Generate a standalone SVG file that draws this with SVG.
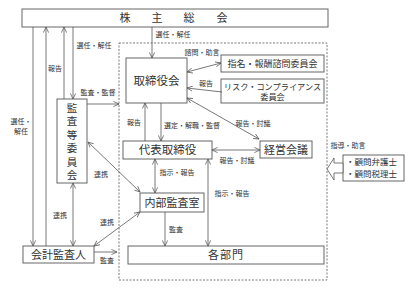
<svg xmlns="http://www.w3.org/2000/svg" width="414" height="291" viewBox="0 0 414 291">
<defs>
<style>
text{font-family:"Noto Sans CJK JP","Noto Sans CJK SC",sans-serif;fill:#333;}
.box{fill:#fff;stroke:#666;stroke-width:1;}
.lb{font-size:11px;text-anchor:middle;}
.sm{font-size:7px;text-anchor:middle;}
.c path{fill:none;stroke:#555;stroke-width:0.8;}
</style>
<marker id="a" viewBox="0 0 8 8" refX="7.5" refY="4" markerWidth="6" markerHeight="6" markerUnits="userSpaceOnUse" orient="auto-start-reverse">
<path d="M0,0.5 L7.5,4 L0,7.5" fill="none" stroke="#555" stroke-width="1"/>
</marker>
</defs>
<rect width="414" height="291" fill="#fff"/>
<rect id="scope" x="119" y="43" width="208" height="237" fill="none" stroke="#555" stroke-width="0.8" stroke-dasharray="2,1.5"/>

<g id="shareholders"><rect class="box" x="22" y="9" width="306" height="18"/>
<text class="lb" y="22"><tspan x="125">株</tspan><tspan x="157">主</tspan><tspan x="189">総</tspan><tspan x="222">会</tspan></text></g>

<g id="board"><rect class="box" x="126" y="58" width="61" height="45"/><text class="lb" x="156.5" y="85" style="font-size:11.5px">取締役会</text></g>
<g id="nomination"><rect class="box" x="221" y="55" width="103" height="17"/><text class="lb" x="272.5" y="67" style="font-size:9px">指名・報酬諮問委員会</text></g>
<g id="risk"><rect class="box" x="221" y="79" width="103" height="24"/><text class="lb" x="272.5" y="89.5" style="font-size:8.2px">リスク・コンプライアンス</text><text class="lb" x="272.5" y="100" style="font-size:8.2px">委員会</text></g>
<g id="audit-committee"><rect class="box" x="57" y="99" width="30" height="84"/>
<text x="72" y="143" writing-mode="vertical-rl" text-anchor="middle" style="font-size:10.5px;letter-spacing:3px">監査等委員会</text></g>
<g id="president"><rect class="box" x="123" y="141" width="89" height="18"/><text class="lb" x="167.5" y="154" style="font-size:11.5px">代表取締役</text></g>
<g id="management"><rect class="box" x="260" y="141" width="52" height="17"/><text class="lb" x="286" y="154">経営会議</text></g>
<g id="advisors"><rect class="box" x="343" y="155" width="61" height="26"/>
<text x="346" y="165" style="font-size:8.5px">・顧問弁護士</text><text x="346" y="177" style="font-size:8.5px">・顧問税理士</text></g>
<g id="internal-audit"><rect class="box" x="140" y="193" width="64" height="19"/><text class="lb" x="172" y="206.5">内部監査室</text></g>
<g id="departments"><rect class="box" x="128" y="246" width="196" height="18"/><text class="lb" x="226" y="259" style="letter-spacing:1px">各部門</text></g>
<g id="auditor"><rect class="box" x="23" y="246" width="71" height="17"/><text class="lb" x="58.5" y="259">会計監査人</text></g>

<g class="c" id="connectors">
<path d="M152,27 V58" marker-end="url(#a)"/>
<path d="M73,27 V99" marker-end="url(#a)"/>
<path d="M64,99 V27" marker-end="url(#a)"/>
<path d="M33,27 V246" marker-end="url(#a)"/>
<path d="M46,246 V27" marker-end="url(#a)"/>
<path d="M87,104 H119" marker-end="url(#a)"/>
<path d="M88,142 L140,192" marker-start="url(#a)" marker-end="url(#a)"/>
<path d="M73,183 V246" marker-start="url(#a)" marker-end="url(#a)"/>
<path d="M94,246 L140,212" marker-start="url(#a)" marker-end="url(#a)"/>
<path d="M94,252 H117" marker-end="url(#a)"/>
<path d="M161,103 V141" marker-end="url(#a)"/>
<path d="M145,141 V103" marker-end="url(#a)"/>
<path d="M187,72 L221,63" marker-start="url(#a)" marker-end="url(#a)"/>
<path d="M222,92 L187,88" marker-end="url(#a)"/>
<path d="M187,98 L259,139" marker-start="url(#a)" marker-end="url(#a)"/>
<path d="M212,150 H260" marker-start="url(#a)" marker-end="url(#a)"/>
<path d="M155,159 V193" marker-start="url(#a)" marker-end="url(#a)"/>
<path d="M208,159 V246" marker-start="url(#a)" marker-end="url(#a)"/>
<path d="M165,212 V246" marker-end="url(#a)"/>
</g>
<polygon id="advice-arrow" points="327,169 334,158 334,163 343,163 343,173 334,173 334,180" fill="#fff" stroke="#555" stroke-width="0.8"/>

<g id="labels">
<text class="sm" x="173" y="37">選任・解任</text>
<text class="sm" x="94" y="48">選任・解任</text>
<text class="sm" x="55" y="71">報告</text>
<text class="sm" x="98" y="95">監査・監督</text>
<text class="sm" x="21" y="124">選任・</text>
<text class="sm" x="21" y="134">解任</text>
<text class="sm" x="101" y="177">連携</text>
<text class="sm" x="60" y="218">連携</text>
<text class="sm" x="107" y="225">連携</text>
<text class="sm" x="107" y="263">監査</text>
<text class="sm" x="202" y="55">諮問・助言</text>
<text class="sm" x="206" y="86">報告</text>
<text class="sm" x="253" y="126">報告・討議</text>
<text class="sm" x="134" y="125">報告</text>
<text class="sm" x="192" y="128">選定・解職・監督</text>
<text class="sm" x="237" y="163">報告・討議</text>
<text class="sm" x="177" y="175">指示・報告</text>
<text class="sm" x="232" y="196">指示・報告</text>
<text class="sm" x="176" y="232">監査</text>
<text class="sm" x="348" y="148">指導・助言</text>
</g>
</svg>
